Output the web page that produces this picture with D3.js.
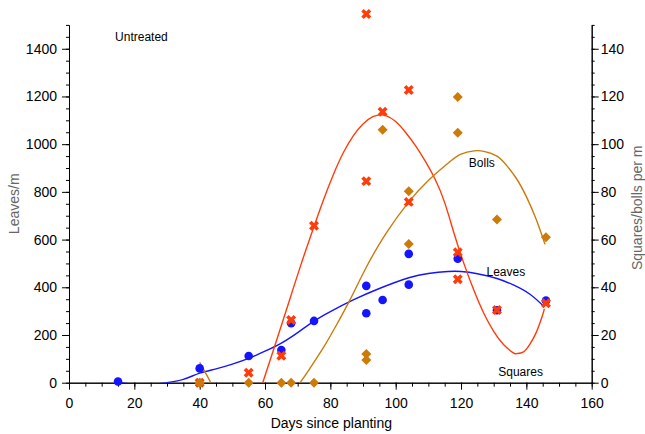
<!DOCTYPE html>
<html>
<head>
<meta charset="utf-8">
<script src="https://cdn.jsdelivr.net/npm/d3@7"></script>
<style>
  html, body { margin: 0; padding: 0; background: #fff; }
  svg { display: block; font-family: "Liberation Sans", Arial, sans-serif; }
</style>
</head>
<body>
<svg id="chart" width="645" height="434"></svg>
<script>
// Leaves per metre (left axis)
const leafDays   = [15, 40, 55, 65, 68, 75, 91, 91, 96, 104, 104, 119, 131, 146];
const leafValues = [5, 60, 112, 137, 249, 259, 406, 291, 347, 540, 411, 520, 304, 344];

// Squares per metre (right axis)
const squareDays   = [40, 55, 65, 68, 75, 91, 91, 96, 104, 104, 119, 119, 131, 146];
const squareValues = [0, 4.2, 11.3, 26.3, 65.8, 154.6, 84.5, 113.6, 122.7, 75.8, 54.7, 43.4, 30.5, 33.3];

// Bolls per metre (right axis)
const bollDays   = [40, 40, 55, 65, 68, 75, 91, 91, 96, 104, 104, 119, 119, 131, 146];
const bollValues = [0, 0, 0, 0, 0, 0, 12, 9.5, 106, 80.3, 58.1, 119.8, 104.8, 68.4, 61];

// Fitted trend curves, sampled along the day axis
const leafFitDays   = [15, 18, 22, 26, 30, 35, 40, 45, 50, 55, 60, 65, 70, 75, 80, 87, 95, 104, 110, 116, 120, 125, 131, 136, 141, 145.5];
const leafFitValues = [3, -4, -8, -6, 0, 14, 40, 58, 78, 102, 132, 166, 210, 258, 298, 347, 395, 440, 458, 466, 466, 457, 437, 410, 372, 318];

const squareFitDays   = [56, 59.3, 63, 67, 71, 75, 78, 81, 84, 87, 90, 93, 95, 97, 100, 103, 106, 109, 112, 115, 118, 121, 124, 127, 130, 133, 136, 137, 139, 141, 143, 145, 145.5];
const squareFitValues = [-14, 0, 15.5, 32.5, 49.5, 65.5, 77, 87.5, 96.5, 103.5, 108.5, 111.5, 112.3, 112, 109.5, 105, 99.5, 93, 85.5, 75.5, 62, 49.5, 38.5, 29, 21.5, 16, 12.5, 12.2, 12.8, 16, 21, 28.5, 31];

const bollFitDays   = [40, 43.4, 46, 50, 55, 60, 65, 70.7, 74, 78, 82, 86, 91, 97, 104, 110, 116, 120, 124, 127, 131, 134, 137, 140, 143, 145.7];
const bollFitValues = [8.5, 0, -6.5, -12, -15, -14, -9, 0, 6.5, 15, 24.5, 34.7, 48.4, 62.5, 75.8, 84.8, 92, 95.8, 97.2, 97, 95, 91, 85.5, 78, 68.5, 58];

// Axis ticks
const xTicks      = [0, 20, 40, 60, 80, 100, 120, 140, 160];
const xMinorTicks = d3.range(0, 161, 5);
const leftTicks      = [0, 200, 400, 600, 800, 1000, 1200, 1400];
const leftMinorTicks = d3.range(0, 1501, 50);
const rightTicks      = [0, 20, 40, 60, 80, 100, 120, 140];
const rightMinorTicks = d3.range(0, 151, 5);

// Text annotations: [label, day, value, axis]
const notes = [
  ["Untreated", 14.1, 1434, "left"],
  ["Bolls", 122.4, 90.5, "right"],
  ["Leaves", 127.8, 448, "left"],
  ["Squares", 131.4, 2.8, "right"]
];

const colors = { leaves: "#1414ff", squares: "#ff3c0a", bolls: "#cc7a0a" };

const svg = d3.select("#chart");
const plot = { left: 69, right: 591.7, top: 24.9, bottom: 382.7 };

const x = d3.scaleLinear().domain([0, 160]).range([plot.left, plot.right]);
const yL = d3.scaleLinear().domain([0, 1500]).range([plot.bottom, plot.top]);
const yR = d3.scaleLinear().domain([0, 150]).range([plot.bottom, plot.top]);

svg.append("defs").append("clipPath").attr("id", "plotClip")
  .append("rect")
  .attr("x", plot.left).attr("y", plot.top)
  .attr("width", plot.right - plot.left).attr("height", plot.bottom - plot.top);

// Axes
function styleAxis(g) {
  g.selectAll("path, line").attr("stroke", "#000").attr("stroke-width", 1);
  g.selectAll("text").attr("font-size", 14).attr("fill", "#000")
    .attr("font-family", "'Liberation Sans', Arial, sans-serif");
}

svg.append("g").attr("transform", `translate(0,${plot.bottom})`)
  .call(d3.axisBottom(x).tickValues(xMinorTicks).tickSize(4).tickSizeOuter(0).tickFormat(""))
  .call(styleAxis);
svg.append("g").attr("transform", `translate(0,${plot.bottom})`)
  .call(d3.axisBottom(x).tickValues(xTicks).tickSize(7).tickSizeOuter(0).tickPadding(8).tickFormat(d3.format("d")))
  .call(styleAxis);

svg.append("g").attr("transform", `translate(${plot.left},0)`)
  .call(d3.axisLeft(yL).tickValues(leftMinorTicks).tickSize(3).tickSizeOuter(0).tickFormat(""))
  .call(styleAxis);
svg.append("g").attr("transform", `translate(${plot.left},0)`)
  .call(d3.axisLeft(yL).tickValues(leftTicks).tickSize(7).tickSizeOuter(0).tickPadding(5).tickFormat(d3.format("d")))
  .call(styleAxis);

svg.append("g").attr("transform", `translate(${plot.right},0)`)
  .call(d3.axisRight(yR).tickValues(rightMinorTicks).tickSize(3).tickSizeOuter(0).tickFormat(""))
  .call(styleAxis);
svg.append("g").attr("transform", `translate(${plot.right},0)`)
  .call(d3.axisRight(yR).tickValues(rightTicks).tickSize(7).tickSizeOuter(0).tickPadding(2).tickFormat(d3.format("d")))
  .call(styleAxis);

// Axis titles
svg.append("text")
  .attr("x", (plot.left + plot.right) / 2 + 1).attr("y", 428)
  .attr("text-anchor", "middle").attr("font-size", 14).attr("fill", "#000")
  .text("Days since planting");

svg.append("text")
  .attr("transform", `translate(18.5,${(plot.top + plot.bottom) / 2}) rotate(-90)`)
  .attr("text-anchor", "middle").attr("font-size", 14).attr("fill", "#666")
  .text("Leaves/m");

svg.append("text")
  .attr("transform", `translate(641.5,${(plot.top + plot.bottom) / 2 + 4}) rotate(-90)`)
  .attr("text-anchor", "middle").attr("font-size", 14).attr("fill", "#666")
  .text("Squares/bolls per m");

// Fitted curves
const curves = svg.append("g").attr("clip-path", "url(#plotClip)");
function drawFit(days, values, yScale, color) {
  const pts = days.map((d, i) => [d, values[i]]);
  curves.append("path")
    .datum(pts)
    .attr("fill", "none")
    .attr("stroke", color)
    .attr("stroke-width", 1.4)
    .attr("d", d3.line().x(d => x(d[0])).y(d => yScale(d[1])).curve(d3.curveNatural));
}
drawFit(leafFitDays, leafFitValues, yL, colors.leaves);
drawFit(squareFitDays, squareFitValues, yR, colors.squares);
drawFit(bollFitDays, bollFitValues, yR, colors.bolls);

// Observed points
const marks = svg.append("g");
marks.selectAll("circle.leaf")
  .data(leafDays.map((d, i) => [d, leafValues[i]]))
  .join("circle").attr("class", "leaf")
  .attr("cx", d => x(d[0])).attr("cy", d => yL(d[1]))
  .attr("r", 4.3).attr("fill", colors.leaves);

const crossPath = d3.symbol().type(d3.symbolCross).size(62)();
marks.selectAll("path.square")
  .data(squareDays.map((d, i) => [d, squareValues[i]]))
  .join("path").attr("class", "square")
  .attr("d", crossPath)
  .attr("transform", d => `translate(${x(d[0])},${yR(d[1])}) rotate(45)`)
  .attr("fill", colors.squares);

const diamondPath = d3.symbol().type(d3.symbolSquare).size(50)();
marks.selectAll("path.boll")
  .data(bollDays.map((d, i) => [d, bollValues[i]]))
  .join("path").attr("class", "boll")
  .attr("d", diamondPath)
  .attr("transform", d => `translate(${x(d[0])},${yR(d[1])}) rotate(45)`)
  .attr("fill", colors.bolls);

// Annotations
svg.append("g").selectAll("text")
  .data(notes)
  .join("text")
  .attr("x", d => x(d[1]))
  .attr("y", d => (d[3] === "left" ? yL : yR)(d[2]))
  .attr("font-size", 12).attr("fill", "#000")
  .text(d => d[0]);
</script>
</body>
</html>
